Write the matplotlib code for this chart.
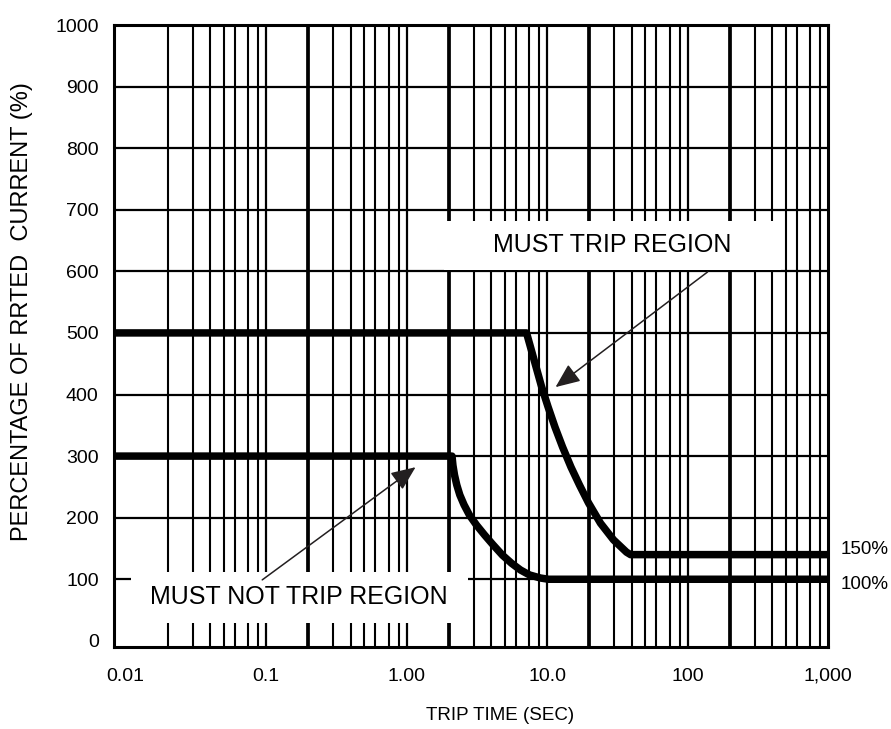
import matplotlib
matplotlib.use("Agg")
import matplotlib.pyplot as plt
from matplotlib.patches import Rectangle

# ---------------- data ----------------
trip_time_upper = [0.00828, 7.15, 7.63, 8.35, 9.14, 10.17, 11.40, 12.89, 14.82, 17.03,
                   19.74, 24.03, 29.73, 36.8, 39.3, 1000]
current_upper = [500, 500, 477, 445, 413, 380, 347, 315, 282, 253,
                 224, 191, 164, 144, 140, 140]

trip_time_lower = [0.00828, 2.108, 2.14, 2.197, 2.28, 2.395, 2.566, 2.808, 3.149, 3.591,
                   4.128, 4.824, 5.59, 6.48, 7.51, 8.99, 10.25, 1000]
current_lower = [300, 300, 285, 269, 253, 237, 221, 204, 188, 172,
                 156, 139, 126, 115, 107, 102, 100, 100]

x_ticks = [0.01, 0.1, 1, 10, 100, 1000]
x_tick_labels = ["0.01", "0.1", "1.00", "10.0", "100", "1,000"]
y_ticks = [0, 100, 200, 300, 400, 500, 600, 700, 800, 900, 1000]
y_tick_labels = [str(v) for v in y_ticks]

grid_decades = [0.01, 0.1, 1, 10, 100]
grid_multipliers = [2, 3, 4, 5, 6, 7.5, 8.8]
major_vlines = [0.1, 1, 10, 100]
heavy_vlines = [0.2, 2, 20, 200]
hlines = [100, 200, 300, 400, 500, 600, 700, 800, 900]

x_range = (0.00828, 1000)
y_range = (-10, 1000)

# ---------------- figure ----------------
REG = ["Liberation Sans", "DejaVu Sans"]

fig = plt.figure(figsize=(8.91, 7.29), dpi=100)
ax = fig.add_axes([114 / 891, (729 - 647) / 729, (828 - 114) / 891, (647 - 25) / 729])
ax.set_xscale("log")
ax.set_xlim(*x_range)
ax.set_ylim(*y_range)

# grid
for d in grid_decades:
    for m in grid_multipliers:
        v = d * m
        lw = 2.7 if any(abs(v - h) < 1e-9 for h in heavy_vlines) else 1.5
        ax.axvline(v, color="black", lw=lw, zorder=1)
for v in major_vlines:
    ax.axvline(v, color="black", lw=1.6, zorder=1)
for h in hlines:
    ax.axhline(h, color="black", lw=1.6, zorder=1)

# white label boxes
ax.add_patch(Rectangle((1.86, 602), 460 - 1.86, 682 - 602, facecolor="white",
                       edgecolor="none", zorder=2))
ax.add_patch(Rectangle((0.0110, 29), 2.72 - 0.0110, 112 - 29, facecolor="white",
                       edgecolor="none", zorder=2))

# curves
ax.plot(trip_time_upper, current_upper, color="black", lw=5.4, zorder=3,
        solid_capstyle="butt", solid_joinstyle="round")
ax.plot(trip_time_lower, current_lower, color="black", lw=5.4, zorder=3,
        solid_capstyle="butt", solid_joinstyle="round")

# region labels
ax.text(29.2, 643, "MUST TRIP REGION", fontsize=18, family=REG,
        ha="center", va="center", zorder=4)
ax.text(0.170, 71, "MUST NOT TRIP REGION", fontsize=18, family=REG,
        ha="center", va="center", zorder=4)

arrow_kw = dict(arrowstyle="-|>,head_length=0.75,head_width=0.32",
                color="#231f20", lw=1.1, mutation_scale=20,
                shrinkA=0, shrinkB=0)
ax.annotate("", xy=(11.5, 412), xytext=(139, 599), arrowprops=arrow_kw, zorder=5)
ax.annotate("", xy=(1.16, 282), xytext=(0.094, 99), arrowprops=arrow_kw, zorder=5)

# right side labels
ax.text(1.018, 148, "150%", transform=ax.get_yaxis_transform(), fontsize=13.5,
        family=REG, ha="left", va="center", clip_on=False)
ax.text(1.018, 91, "100%", transform=ax.get_yaxis_transform(), fontsize=13.5,
        family=REG, ha="left", va="center", clip_on=False)

# ticks
ax.set_xticks(x_ticks)
ax.set_xticklabels(x_tick_labels, family=REG, fontsize=14)
ax.set_yticks(y_ticks)
ax.set_yticklabels(y_tick_labels, family=REG, fontsize=14)
ax.xaxis.set_minor_locator(matplotlib.ticker.NullLocator())
ax.tick_params(axis="both", length=0)
ax.tick_params(axis="x", pad=15)
ax.tick_params(axis="y", pad=11)

for s in ax.spines.values():
    s.set_linewidth(2.2)
    s.set_color("black")
    s.set_zorder(6)

# axis titles
fig.text(22 / 891, 1 - 312 / 729, "PERCENTAGE OF RRTED  CURRENT (%)", rotation=90,
         fontsize=17, family=REG, ha="center", va="center")
fig.text(500 / 891, 1 - 715 / 729, "TRIP TIME (SEC)", fontsize=13.5, family=REG,
         ha="center", va="center")

fig.savefig("out.png", dpi=100, facecolor="white")
